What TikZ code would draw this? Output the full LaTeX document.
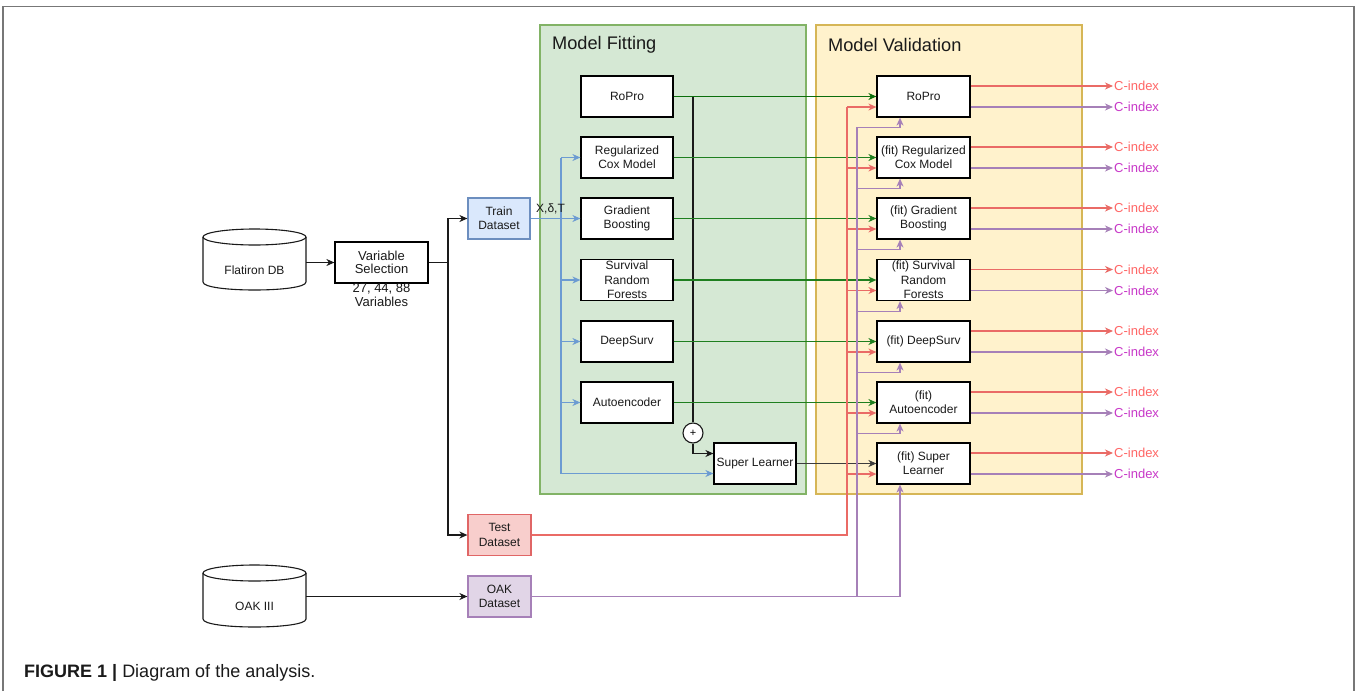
\documentclass[tikz,border=0pt]{standalone}
\usepackage{fontspec}
\setmainfont{Liberation Sans}
\usetikzlibrary{arrows.meta}
\definecolor{fitfill}{HTML}{D5E8D4}
\definecolor{fitdraw}{HTML}{82B366}
\definecolor{valfill}{HTML}{FFF2CC}
\definecolor{valdraw}{HTML}{D6B656}
\definecolor{trainfill}{HTML}{DAE8FC}
\definecolor{traindraw}{HTML}{6C8EBF}
\definecolor{testfill}{HTML}{F8CECC}
\definecolor{testdraw}{HTML}{E06666}
\definecolor{oakfill}{HTML}{E1D5E7}
\definecolor{oakdraw}{HTML}{A680B8}
\definecolor{blueln}{HTML}{6C9BD2}
\definecolor{redln}{HTML}{EA6B66}
\definecolor{purln}{HTML}{A680B8}
\definecolor{greenA}{HTML}{0B6E0B}
\definecolor{greenB}{HTML}{1F7F1F}
\definecolor{cidred}{HTML}{FF6666}
\definecolor{cidpur}{HTML}{C838C8}
\definecolor{ink}{HTML}{1A1A1A}
\definecolor{framegray}{HTML}{777777}
\newcommand{\myfontA}{\fontsize{12}{14.3}\selectfont}
\newcommand{\myfontB}{\fontsize{13}{14}\selectfont}
\newcommand{\myfontT}{\fontsize{18.2}{20}\selectfont}
\newcommand{\myfontC}{\fontsize{13}{15}\selectfont}
\newcommand{\myfontCap}{\fontsize{18}{20}\selectfont}
\begin{document}
\begin{tikzpicture}[x=1pt,y=-1pt,
  arr/.style={-{Stealth[length=8pt,width=7pt,inset=2.5pt]}},
  ln/.style={line width=1.2pt},
  mbox/.style={draw=black, fill=white, line width=1.2pt, minimum width=92pt, minimum height=41pt, align=center, inner sep=1pt, font=\myfontA, text=ink},
  vbox/.style={mbox, minimum width=93pt},
  dbox/.style={draw, line width=1.2pt, minimum width=62pt, minimum height=41pt, align=center, inner sep=1pt, font=\myfontA, text=ink},
  cylst/.style={draw=ink, line width=1.1pt, fill=white},
  blk/.style={ln, draw=ink},
  bline/.style={ln, draw=blueln},
  rline/.style={ln, draw=redln},
  pline/.style={ln, draw=purln},
  cr/.style={anchor=west, inner sep=1pt, font=\myfontC, text=cidred},
  cp/.style={anchor=west, inner sep=1pt, font=\myfontC, text=cidpur}]
\useasboundingbox (0,0) rectangle (1357,691);
\fill[white] (0,0) rectangle (1357,691);
\draw[framegray, line width=1.5pt] (3,691) -- (3,6.5) -- (1354,6.5) -- (1354,691);

% containers
\node[draw=fitdraw, fill=fitfill, line width=1.2pt, minimum width=266pt, minimum height=469pt, inner sep=0] (fitbox) at (673,259.5) {};
\node[draw=valdraw, fill=valfill, line width=1.2pt, minimum width=266pt, minimum height=469pt, inner sep=0] (valbox) at (949,259.5) {};
\node[anchor=west, inner sep=0, font=\myfontT, text=ink] (fittitle) at (552,45) {Model Fitting};
\node[anchor=west, inner sep=0, font=\myfontT, text=ink] (valtitle) at (828,45) {Model Validation};

% databases
\node[inner sep=0, minimum width=103pt, minimum height=61pt] (flat) at (254.5,259.5) {};
\draw[cylst] (203,237) -- (203,282) .. controls (203,292.67) and (306,292.67) .. (306,282) -- (306,237);
\draw[cylst] (254.5,237) ellipse [x radius=51.5pt, y radius=8pt];
\node[font=\myfontA, text=ink, inner sep=0] (flatlbl) at (254.5,270) {Flatiron DB};

\node[inner sep=0, minimum width=103pt, minimum height=62pt] (oakdb) at (254.5,596.5) {};
\draw[cylst] (203,573) -- (203,619) .. controls (203,629.67) and (306,629.67) .. (306,619) -- (306,573);
\draw[cylst] (254.5,573) ellipse [x radius=51.5pt, y radius=8pt];
\node[font=\myfontA, text=ink, inner sep=0] (oaklbl) at (254.5,606) {OAK III};

% variable selection
\node[mbox, minimum width=93pt, font=\myfontB] (vs) at (381.5,262.5) {Variable\\[-1pt]Selection};
\node[font=\myfontB, text=ink, align=center, inner sep=0] (vslbl) at (381.5,295.5) {27, 44, 88\\Variables};

% datasets
\node[dbox, draw=traindraw, fill=trainfill] (train) at (499,218.5) {Train\\Dataset};
\node[dbox, draw=testdraw, fill=testfill, minimum width=63pt] (test) at (499.5,535) {Test\\Dataset};
\node[dbox, draw=oakdraw, fill=oakfill, minimum width=63pt] (oak) at (499.5,596.5) {OAK\\Dataset};

% fitting boxes
\foreach \i/\yy/\t in {1/96.5/RoPro, 2/157.5/{Regularized\\Cox Model}, 3/218.5/{Gradient\\Boosting}, 4/280/{Survival\\Random\\Forests}, 5/341.5/DeepSurv, 6/402.5/Autoencoder}
  \node[mbox] (f\i) at (627,\yy) {\t};
\node[mbox, minimum width=82pt] (sl) at (755,463.5) {Super Learner};

% validation boxes
\foreach \i/\yy/\t in {1/96.5/RoPro, 2/157.5/{(fit) Regularized\\Cox Model}, 3/218.5/{(fit) Gradient\\Boosting}, 4/280/{(fit) Survival\\Random\\Forests}, 5/341.5/{(fit) DeepSurv}, 6/402.5/{(fit)\\Autoencoder}, 7/463.5/{(fit) Super\\Learner}}
  \node[vbox] (v\i) at (923.5,\yy) {\t};

% left connectors
\draw[blk, arr] (flat.east |- vs.west) -- (vs.west);
\coordinate (split) at (448,262.5);
\draw[blk] (vs.east) -- (split);
\draw[blk, arr] (split) |- (train.west);
\draw[blk, arr] (split) |- (test.west);
\draw[blk, arr] (oakdb.east) -- (oak.west);

% blue connectors
\coordinate (btop) at (561,157.5);
\coordinate (bbot) at (561,473.5);
\draw[bline, arr] (train.east) -- (f3.west);
\draw[bline] (btop) -- (bbot);
\foreach \n in {f2,f4,f5,f6}
  \draw[bline, arr] (btop |- \n.west) -- (\n.west);
\draw[bline, arr] (bbot) -- ([yshift=-10pt]sl.west);
\node[font=\myfontA, text=ink, inner sep=0] (xdt) at (550.5,209) {X,δ,T};

% black ensemble
\coordinate (ktop) at (693,96.5);
\node[draw=ink, fill=white, circle, line width=1.1pt, minimum size=20pt, inner sep=0, font=\fontsize{11}{11}\selectfont] (plus) at (693,433) {+};
\draw[blk] (ktop) -- (plus.north);
\draw[blk, arr] (plus.south) |- ([yshift=10pt]sl.west);

% green connectors
\draw[ln, draw=greenA, arr] (f1.east) -- (v1.west);
\foreach \i in {2,...,6}
  \draw[ln, draw=greenB, arr] (f\i.east) -- (v\i.west);
\draw[ln, draw=ink!85, arr] (sl.east) -- (v7.west);

% red test connectors
\coordinate (rtop) at (847,107);
\coordinate (rbot) at (847,535);
\draw[rline] (test.east) -- (rbot) -- (rtop);
\foreach \i in {1,...,7} {
  \coordinate (rin\i) at ([yshift=-10.5pt]v\i.west);
  \draw[rline, arr] (rtop |- rin\i) -- (rin\i);
}

% purple oak connectors
\coordinate (ptop) at (857,127);
\coordinate (pbot) at (857,596.5);
\draw[pline] (pbot) -- (ptop);
\foreach \i in {1,...,6} {
  \coordinate (pin\i) at ([xshift=-23.5pt]v\i.south);
  \coordinate (prow\i) at ([yshift=-10pt]v\i.south);
  \draw[pline, arr] (ptop |- prow\i) -| (pin\i);
}
\coordinate (pin7) at ([xshift=-23.5pt]v7.south);
\draw[pline, arr] (oak.east) -| (pin7);

% outputs
\foreach \i/\yy in {1/96.5, 2/157.5, 3/218.5, 4/280, 5/341.5, 6/402.5, 7/463.5} {
  \node[cr] (cr\i) at (1113,\yy-10.5) {C-index};
  \node[cp] (cp\i) at (1113,\yy+10.5) {C-index};
  \draw[rline, arr] ([yshift=10.5pt]v\i.east) -- (cr\i.west);
  \draw[pline, arr] ([yshift=-10.5pt]v\i.east) -- (cp\i.west);
}

% caption
\node[anchor=west, inner sep=0, font=\myfontCap, text=ink] (cap) at (24,673) {\textbf{FIGURE 1 |} Diagram of the analysis.};
\end{tikzpicture}
\end{document}
